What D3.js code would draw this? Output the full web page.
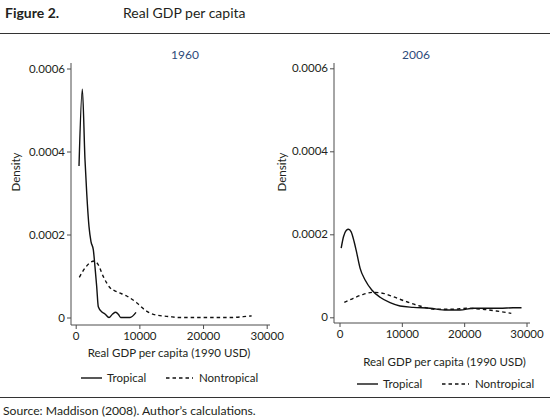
<!DOCTYPE html>
<html><head><meta charset="utf-8">
<script src="https://cdn.jsdelivr.net/npm/d3@7"></script>
<style>
body{margin:0;background:#fff;}
svg{display:block;}
text{font-family:Lato, "Open Sans", sans-serif; fill:#231f20;}
</style></head>
<body><div id="chart"></div>
<script>
// ---- data ----
const panelTitles = ["1960", "2006"];
const xTicks = [0, 10000, 20000, 30000];
const yTicks = [0, 0.0002, 0.0004, 0.0006];
const yTickLabels = ["0", "0.0002", "0.0004", "0.0006"];
const seriesNames = ["Tropical", "Nontropical"];

const trop1960x = [520, 1040, 1460, 1730, 2090, 2400, 2770, 3030, 3300, 3550, 4080, 4600, 5230, 5800, 6280, 6700, 7060, 8530, 9470];
const trop1960y = [0.000365, 0.00055, 0.00038, 0.0003, 0.000219, 0.000183, 0.000163, 0.000122, 0.000074, 0.000026, 0.000014, 0.0000084, 0, 0.0000084, 0.0000125, 0.0000077, 0, 0, 0.0000125];
const nontrop1960x = [570, 1460, 2245, 2920, 3550, 4340, 5390, 6440, 8010, 9580, 10880, 12190, 14810, 16380, 24240, 26330, 27640];
const nontrop1960y = [0.0000969, 0.000119, 0.000132, 0.000136, 0.000127, 0.0000984, 0.0000718, 0.0000622, 0.0000518, 0.0000357, 0.0000181, 0.0000077, 0.000002, 0, 0, 0.000002, 0.000004];
const trop2006x = [270, 640, 1070, 1440, 1870, 2350, 2780, 3310, 4110, 5180, 6510, 8110, 9710, 11850, 14510, 17180, 19320, 21450, 23590, 25730, 27860, 29200];
const trop2006y = [0.0001667, 0.000194, 0.000209, 0.000212, 0.000206, 0.000182, 0.000154, 0.000118, 0.0000899, 0.0000658, 0.0000482, 0.0000352, 0.0000272, 0.000024, 0.0000217, 0.0000176, 0.0000176, 0.0000217, 0.0000217, 0.0000217, 0.000023, 0.000023];
const nontrop2006x = [770, 2210, 3810, 5410, 7010, 8610, 10750, 12890, 15560, 18220, 20360, 23030, 25160, 27560];
const nontrop2006y = [0.0000361, 0.0000458, 0.0000554, 0.0000602, 0.0000578, 0.0000496, 0.0000376, 0.0000272, 0.0000193, 0.0000193, 0.0000217, 0.0000193, 0.0000152, 0.0000096];

// ---- layout ----
const W = 550, H = 420;
const svg = d3.select("#chart").append("svg").attr("width", W).attr("height", H);

svg.append("text").attr("x", 5).attr("y", 18).style("font-weight", "bold").style("font-size", "14px").text("Figure 2.");
svg.append("text").attr("x", 123).attr("y", 18).style("font-size", "14px").text("Real GDP per capita");
svg.append("line").attr("x1", 0).attr("x2", W).attr("y1", 33.5).attr("y2", 33.5).attr("stroke", "#333").attr("stroke-width", 1);
svg.append("line").attr("x1", 0).attr("x2", W).attr("y1", 397.5).attr("y2", 397.5).attr("stroke", "#333").attr("stroke-width", 1);
svg.append("text").attr("x", 3).attr("y", 415).style("font-size", "12.2px").text("Source: Maddison (2008). Author\u2019s calculations.");

const panels = [
  {title: panelTitles[0], titleX: 185, axX: 71, axY: 325, axTop: 63, axRight: 270, x0: 75.7, x30: 266.7, y0: 317.5, y6: 68.5,
   yTitleX: 20, xTitleX: 169, xTitleY: 357, legY: 378, legX: 81,
   data: [[trop1960x, trop1960y], [nontrop1960x, nontrop1960y]]},
  {title: panelTitles[1], titleX: 416, axX: 334, axY: 323, axTop: 63, axRight: 530, x0: 339.5, x30: 526.5, y0: 317.3, y6: 68.3,
   yTitleX: 286, xTitleX: 444.5, xTitleY: 366, legY: 384, legX: 357,
   data: [[trop2006x, trop2006y], [nontrop2006x, nontrop2006y]]}
];

const axisColor = "#4d4d4d";
const fs = "11.5px";

panels.forEach(p => {
  const g = svg.append("g");
  const x = d3.scaleLinear().domain([0, 30000]).range([p.x0, p.x30]);
  const y = d3.scaleLinear().domain([0, 0.0006]).range([p.y0, p.y6]);

  g.append("text").attr("x", p.titleX).attr("y", 59).attr("text-anchor", "middle")
    .style("font-size", "12px").style("fill", "#2e4a7a").text(p.title);

  // y axis
  const yAx = g.append("g").attr("transform", `translate(${p.axX},0)`)
    .call(d3.axisLeft(y).tickValues(yTicks).tickSize(4).tickPadding(2).tickFormat((d, i) => yTickLabels[i]));
  yAx.select(".domain").remove();
  yAx.append("line").attr("x1", 0).attr("x2", 0).attr("y1", p.axTop).attr("y2", p.axY).attr("stroke", axisColor);
  yAx.selectAll(".tick line").attr("stroke", axisColor);
  yAx.selectAll(".tick text").style("font-size", fs).style("font-family", "Lato, sans-serif").style("fill", "#231f20");

  // x axis
  const xAx = g.append("g").attr("transform", `translate(0,${p.axY})`)
    .call(d3.axisBottom(x).tickValues(xTicks).tickSize(4).tickPadding(3).tickFormat(d3.format("d")));
  xAx.select(".domain").remove();
  xAx.append("line").attr("x1", p.axX).attr("x2", p.axRight).attr("y1", 0).attr("y2", 0).attr("stroke", axisColor);
  xAx.selectAll(".tick line").attr("stroke", axisColor);
  xAx.selectAll(".tick text").style("font-size", fs).style("font-family", "Lato, sans-serif").style("fill", "#231f20");

  g.append("text").attr("transform", `translate(${p.yTitleX},172) rotate(-90)`)
    .attr("text-anchor", "middle").style("font-size", fs).text("Density");
  g.append("text").attr("x", p.xTitleX).attr("y", p.xTitleY).attr("text-anchor", "middle")
    .style("font-size", fs).text("Real GDP per capita (1990 USD)");

  const line = d3.line().x(d => x(d[0])).y(d => y(d[1])).curve(d3.curveMonotoneX);
  p.data.forEach((s, i) => {
    const pts = s[0].map((v, k) => [v, s[1][k]]);
    g.append("path").datum(pts).attr("d", line).attr("fill", "none").attr("stroke", "#111")
      .attr("stroke-width", 1.4).attr("stroke-dasharray", i === 1 ? "3.5,3" : null);
  });

  // legend
  const lg = g.append("g").attr("transform", `translate(${p.legX},${p.legY})`);
  lg.append("line").attr("x1", 0).attr("x2", 21).attr("y1", 0).attr("y2", 0).attr("stroke", "#111").attr("stroke-width", 1.4);
  lg.append("text").attr("x", 26).attr("y", 4).style("font-size", fs).text(seriesNames[0]);
  lg.append("line").attr("x1", 85).attr("x2", 112).attr("y1", 0).attr("y2", 0).attr("stroke", "#111").attr("stroke-width", 1.4).attr("stroke-dasharray", "3.5,3");
  lg.append("text").attr("x", 118).attr("y", 4).style("font-size", fs).text(seriesNames[1]);
});
</script></body></html>
